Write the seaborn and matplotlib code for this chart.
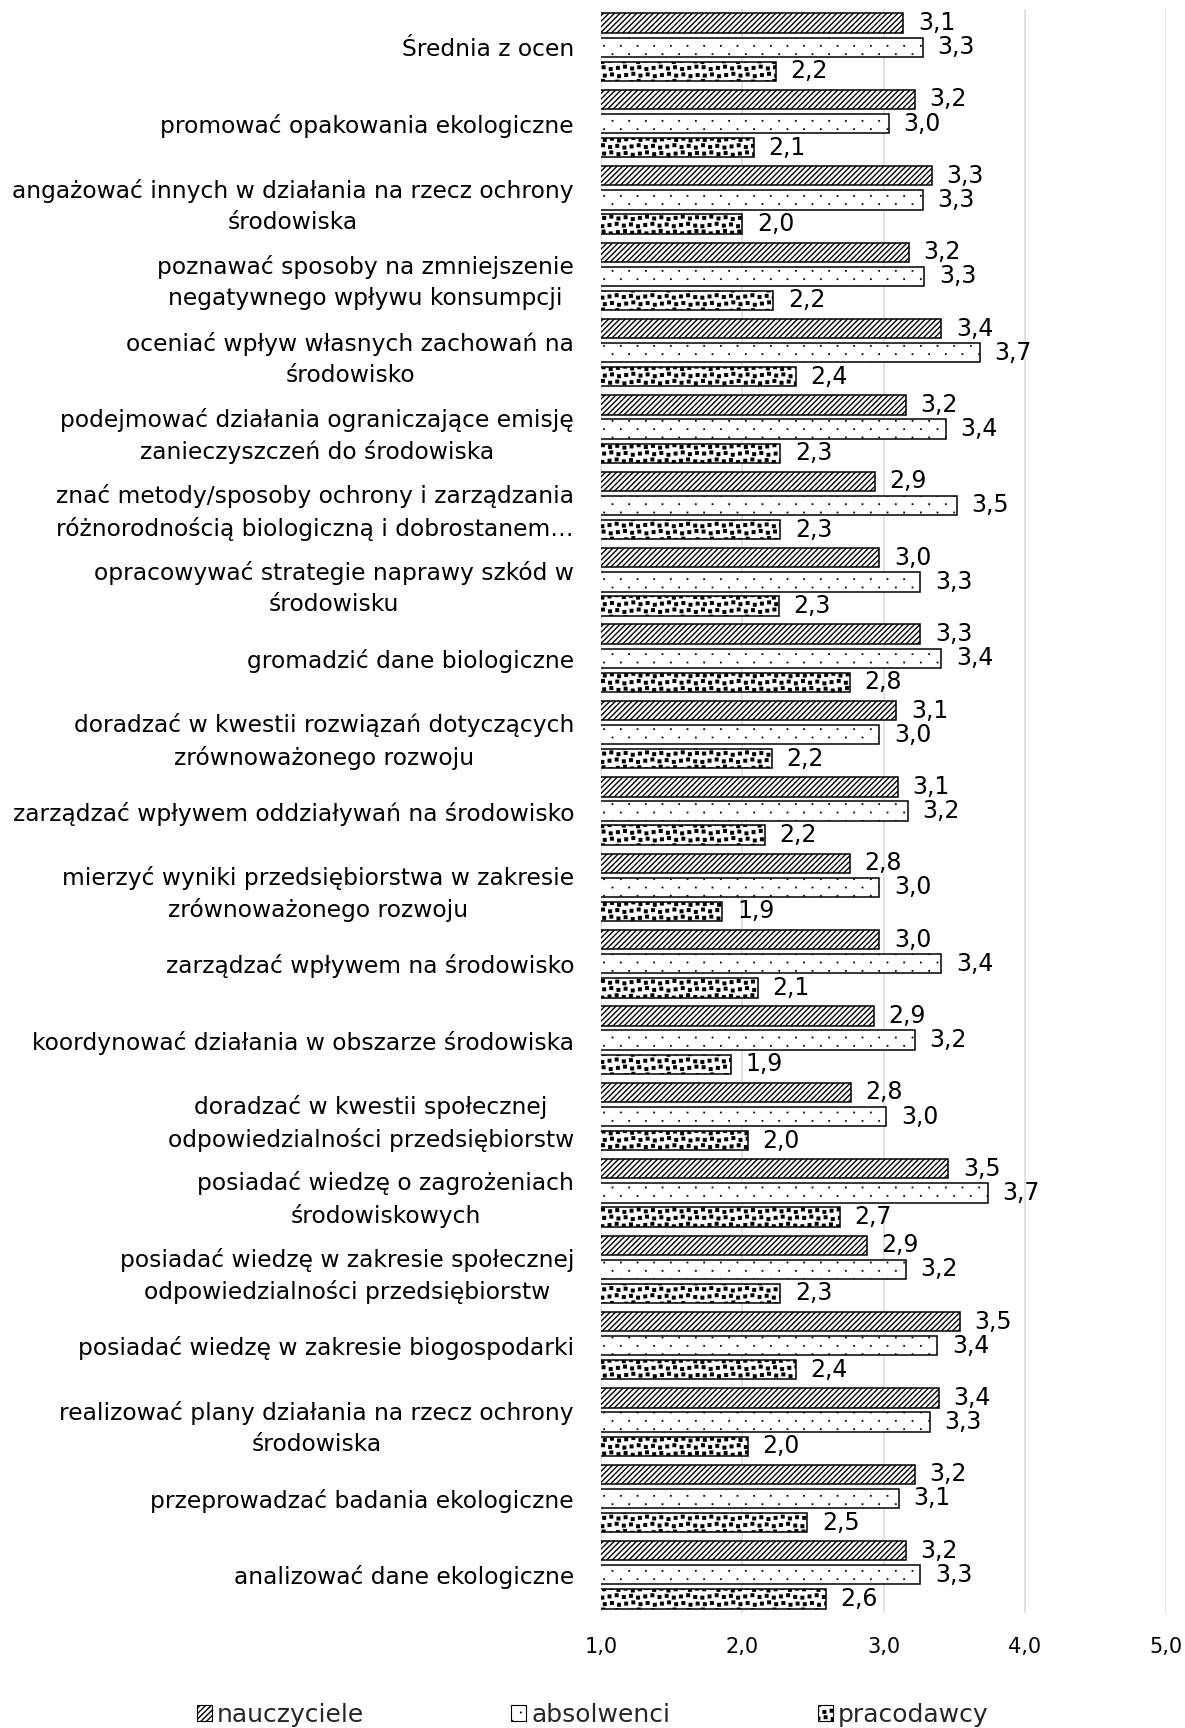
import numpy as np
import pandas as pd
import matplotlib
matplotlib.use("Agg")
import matplotlib.pyplot as plt
import matplotlib.hatch as mhatch
from matplotlib.path import Path
from matplotlib.patches import Patch
import seaborn as sns

# ---------------- data ----------------
categories = [
    "Średnia z ocen",
    "promować opakowania ekologiczne",
    "angażować innych w działania na rzecz ochrony\nśrodowiska",
    "poznawać sposoby na zmniejszenie\nnegatywnego wpływu konsumpcji",
    "oceniać wpływ własnych zachowań na\nśrodowisko",
    "podejmować działania ograniczające emisję\nzanieczyszczeń do środowiska",
    "znać metody/sposoby ochrony i zarządzania\nróżnorodnością biologiczną i dobrostanem…",
    "opracowywać strategie naprawy szkód w\nśrodowisku",
    "gromadzić dane biologiczne",
    "doradzać w kwestii rozwiązań dotyczących\nzrównoważonego rozwoju",
    "zarządzać wpływem oddziaływań na środowisko",
    "mierzyć wyniki przedsiębiorstwa w zakresie\nzrównoważonego rozwoju",
    "zarządzać wpływem na środowisko",
    "koordynować działania w obszarze środowiska",
    "doradzać w kwestii społecznej\nodpowiedzialności przedsiębiorstw",
    "posiadać wiedzę o zagrożeniach\nśrodowiskowych",
    "posiadać wiedzę w zakresie społecznej\nodpowiedzialności przedsiębiorstw",
    "posiadać wiedzę w zakresie biogospodarki",
    "realizować plany działania na rzecz ochrony\nśrodowiska",
    "przeprowadzać badania ekologiczne",
    "analizować dane ekologiczne",
]
groups = ["nauczyciele", "absolwenci", "pracodawcy"]
nauczyciele = [3.14, 3.22, 3.34, 3.18, 3.41, 3.16, 2.94, 2.97, 3.26, 3.09, 3.10,
               2.76, 2.97, 2.93, 2.77, 3.46, 2.88, 3.54, 3.39, 3.22, 3.16]
absolwenci = [3.28, 3.04, 3.28, 3.29, 3.68, 3.44, 3.52, 3.26, 3.41, 2.97, 3.17,
              2.97, 3.41, 3.22, 3.02, 3.74, 3.16, 3.38, 3.33, 3.11, 3.26]
pracodawcy = [2.24, 2.08, 2.00, 2.22, 2.38, 2.27, 2.27, 2.26, 2.76, 2.21, 2.16,
              1.86, 2.11, 1.92, 2.04, 2.69, 2.27, 2.38, 2.04, 2.46, 2.59]
x_ticks = [1, 2, 3, 4, 5]
x_tick_labels = ["1,0", "2,0", "3,0", "4,0", "5,0"]
hatches = ["//////", "o", "*"]


# ---------------- custom fill patterns (Excel-like) ----------------
class _SquareShapes(mhatch.HatchPatternBase):
    char = None
    half = 0.01

    def __init__(self, hatch, density):
        self.centers = self.make_centers() if (hatch and self.char in hatch) else []
        self.num_vertices = 5 * len(self.centers)

    def make_centers(self):
        return []

    def set_vertices_and_codes(self, vertices, codes):
        hs = self.half
        for k, (cx, cy) in enumerate(self.centers):
            vertices[5 * k:5 * k + 5] = [(cx - hs, cy - hs), (cx + hs, cy - hs),
                                         (cx + hs, cy + hs), (cx - hs, cy + hs),
                                         (cx - hs, cy - hs)]
            codes[5 * k:5 * k + 5] = [Path.MOVETO, Path.LINETO, Path.LINETO,
                                      Path.LINETO, Path.CLOSEPOLY]


class SparseDots(_SquareShapes):
    char = "o"
    half = 0.002

    def make_centers(self):
        pts = []
        for r in range(12):
            y = (r + 0.5) / 12
            for c in range(6):
                x = (c + 0.25 + 0.5 * (r % 2)) / 6
                pts.append((x, y))
        return pts


class Confetti(_SquareShapes):
    char = "*"
    half = 0.013

    def make_centers(self):
        pts = []
        n = 14
        for i in range(n):
            for j in range(n):
                jx = (((i * 5 + j * 3) % 5) - 2) * 0.006
                jy = (((i * 2 + j * 7) % 5) - 2) * 0.006
                pts.append(((i + 0.5) / n + jx, (j + 0.5) / n + jy))
        return pts


_new_types = []
for t in mhatch._hatch_types:
    if t.__name__ == "SmallCircles":
        _new_types.append(SparseDots)
    elif t.__name__ == "Stars":
        _new_types.append(Confetti)
    else:
        _new_types.append(t)
mhatch._hatch_types[:] = _new_types

# ---------------- style ----------------
sns.set_theme(style="white")
plt.rcParams["font.family"] = ["DejaVu Sans"]
plt.rcParams["hatch.linewidth"] = 1.0
plt.rcParams["hatch.color"] = "black"

df = pd.DataFrame({
    "kategoria": categories * 3,
    "grupa": np.repeat(groups, len(categories)),
    "wartosc": nauczyciele + absolwenci + pracodawcy,
})

fig = plt.figure(figsize=(11.85, 17.28), dpi=100)
ax = fig.add_axes([601 / 1185, 1 - 1613 / 1728, (1166 - 601) / 1185, (1613 - 9) / 1728])

sns.barplot(data=df, x="wartosc", y="kategoria", hue="grupa", order=categories,
            hue_order=groups, orient="h", palette=["white"] * 3, saturation=1,
            width=0.947, gap=0.2, edgecolor="black", linewidth=1.1,
            errorbar=None, legend=False, ax=ax)

series = [nauczyciele, absolwenci, pracodawcy]
for cont, vals, h in zip(ax.containers, series, hatches):
    for bar in cont:
        bar.set_hatch(h)
        bar.set_facecolor("white")
        bar.set_edgecolor("black")
    ax.bar_label(cont, labels=[f"{v:.1f}".replace(".", ",") for v in vals],
                 padding=10.5, fontsize=17, color="black")

ax.set_xlim(1, 5)
ax.set_ylim(len(categories) - 0.5, -0.5)
ax.set_xticks(x_ticks, x_tick_labels)
ax.xaxis.grid(True, color="#d9d9d9", linewidth=1.1)
ax.yaxis.grid(False)
ax.set_axisbelow(True)
for s in ax.spines.values():
    s.set_visible(False)
ax.set_xlabel("")
ax.set_ylabel("")
ax.tick_params(axis="both", length=0)
ax.tick_params(axis="y", pad=19.4, labelsize=16.8, labelcolor="black")
ax.tick_params(axis="x", pad=17, labelsize=15, labelcolor="black")
for lbl in ax.get_yticklabels():
    lbl.set_multialignment("center")
    lbl.set_linespacing(1.45)

handles = [Patch(facecolor="white", edgecolor="black", hatch=h, linewidth=0.8)
           for h in hatches]
fig.legend(handles, groups, loc="center", bbox_to_anchor=(0.5, 1 - 1715 / 1728),
           ncol=3, frameon=False, fontsize=18, handlelength=0.6,
           handleheight=0.6, handletextpad=0.2, columnspacing=5.9,
           borderaxespad=0, borderpad=0)

fig.savefig("out.png", dpi=100, facecolor="white")
